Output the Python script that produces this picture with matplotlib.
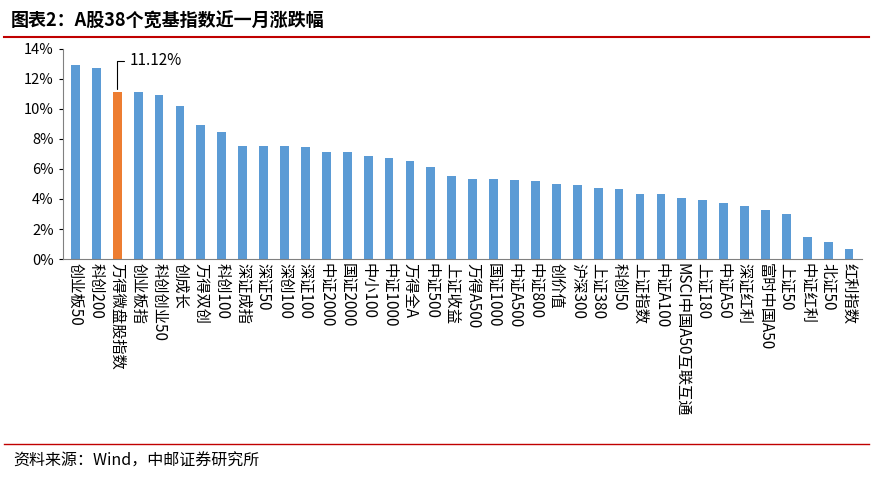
import matplotlib
matplotlib.use("Agg")
import matplotlib.pyplot as plt
from matplotlib.ticker import FuncFormatter

plt.rcParams['font.family'] = ['Noto Sans CJK SC', 'DejaVu Sans']

categories = ["创业板50","科创200","万得微盘股指数","创业板指","科创创业50","创成长","万得双创","科创100",
"深证成指","深证50","深创100","深证100","中证2000","国证2000","中小100","中证1000","万得全A","中证500",
"上证收益","万得A500","国证1000","中证A500","中证800","创价值","沪深300","上证380","科创50","上证指数",
"中证A100","MSCI中国A50互联互通","上证180","中证A50","深证红利","富时中国A50","上证50","中证红利","北证50","红利指数"]
values = [12.9,12.7,11.12,11.1,10.95,10.2,8.9,8.45,7.5,7.5,7.5,7.45,7.1,7.1,6.85,6.7,6.5,6.1,
5.5,5.35,5.35,5.25,5.2,5.0,4.9,4.7,4.65,4.35,4.3,4.05,3.95,3.75,3.5,3.25,3.0,1.5,1.15,0.65]
highlight = 2

fig = plt.figure(figsize=(8.73,4.78), dpi=100)
fig.text(0.012,0.955,"图表2：A股38个宽基指数近一月涨跌幅",fontsize=13,fontweight='bold',va='center')
fig.add_artist(plt.Line2D([0.005,0.995],[0.922,0.922],color='#C00000',lw=1.5))
fig.add_artist(plt.Line2D([0.005,0.995],[0.072,0.072],color='#C00000',lw=1))
fig.text(0.015,0.035,"资料来源：Wind，中邮证券研究所",fontsize=11.5,va='center')

ax = fig.add_axes([0.072,0.458,0.915,0.44])
colors = ['#ED7D31' if i==highlight else '#5B9BD5' for i in range(len(values))]
x = range(len(values))
ax.bar(x, values, width=0.42, color=colors)
ax.set_ylim(0,14)
ax.set_yticks(range(0,15,2))
ax.yaxis.set_major_formatter(FuncFormatter(lambda v,p: f"{int(v)}%"))
ax.set_xlim(-0.6,len(values)-0.4)
ax.set_xticks(list(x))
ax.set_xticklabels(categories, rotation=-90, fontsize=11, va='top', ha='center')
ax.tick_params(axis='x', length=0, pad=3)
ax.tick_params(axis='y', labelsize=10.5, length=3)
for s in ['top','right']:
    ax.spines[s].set_visible(False)
ax.spines['left'].set_color('#808080'); ax.spines['bottom'].set_color('#808080')
ax.annotate(f"{values[highlight]:.2f}%", xy=(highlight, values[highlight]), xytext=(highlight+0.6, 13.2),
            fontsize=11, va='center', arrowprops=dict(arrowstyle='-', color='black', lw=0.8,
            connectionstyle='angle,angleA=0,angleB=90'))
fig.savefig("out.png", dpi=100)
